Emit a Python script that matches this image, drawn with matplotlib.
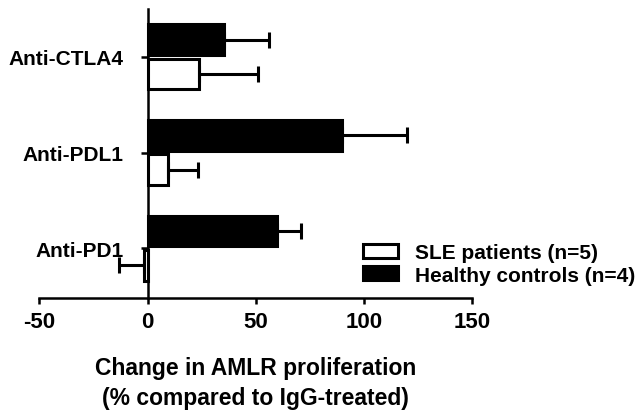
import matplotlib.pyplot as plt
import numpy as np

plt.rcParams['font.family'] = ['Liberation Sans', 'DejaVu Sans']
plt.rcParams['font.weight'] = 'bold'
plt.rcParams['axes.unicode_minus'] = False

# categories from bottom to top
treatments = ['Anti-PD1', 'Anti-PDL1', 'Anti-CTLA4']
sle_mean = [-1.5, 9.4, 23.7]
sle_err = [11.5, 13.8, 27.2]
healthy_mean = [59.7, 90.0, 35.2]
healthy_err = [11.1, 30.0, 20.8]
legend_labels = ['SLE patients (n=5)', 'Healthy controls (n=4)']


def one_sided(means, errs):
    # error bar only on the side the bar points to
    lower = [e if m < 0 else 0 for m, e in zip(means, errs)]
    upper = [0 if m < 0 else e for m, e in zip(means, errs)]
    return [lower, upper]


fig = plt.figure(figsize=(6.35, 4.14), dpi=100)
ax = fig.add_axes([0.0619, 0.2778, 0.6819, 0.698])

y = np.arange(len(treatments))
bar_h = 0.32
off = 0.18
err_kw = dict(ecolor='black', elinewidth=2.2, capsize=5.5, capthick=2.2)

ax.barh(y - off, sle_mean, height=bar_h, color='white', edgecolor='black',
        linewidth=2.2, xerr=one_sided(sle_mean, sle_err), error_kw=err_kw,
        label=legend_labels[0])
ax.barh(y + off, healthy_mean, height=bar_h, color='black', edgecolor='black',
        linewidth=2.2, xerr=one_sided(healthy_mean, healthy_err), error_kw=err_kw,
        label=legend_labels[1])

ax.set_xlim(-50, 150)
ax.set_ylim(-0.52, 2.5)
ax.set_xticks([-50, 0, 50, 100, 150])
ax.set_yticks(y)
ax.set_yticklabels(treatments)

ax.spines['left'].set_position(('data', 0))
ax.spines['right'].set_visible(False)
ax.spines['top'].set_visible(False)
for s in ['left', 'bottom']:
    ax.spines[s].set_linewidth(1.8)

ax.tick_params(axis='x', labelsize=16, width=1.8, length=4.5, pad=5)
ax.tick_params(axis='y', labelsize=15, width=1.8, length=5, pad=12.5)

ax.set_xlabel('Change in AMLR proliferation\n(% compared to IgG-treated)',
              fontsize=16.5, fontweight='bold', labelpad=17, linespacing=1.38)

ax.legend(loc='center left', bbox_to_anchor=(363 / 635, 0.36),
          bbox_transform=fig.transFigure, frameon=False, fontsize=15,
          handlelength=1.68, handleheight=0.67, handletextpad=0.8,
          labelspacing=0.15, borderpad=0, borderaxespad=0)

fig.savefig('out.png', dpi=100)
